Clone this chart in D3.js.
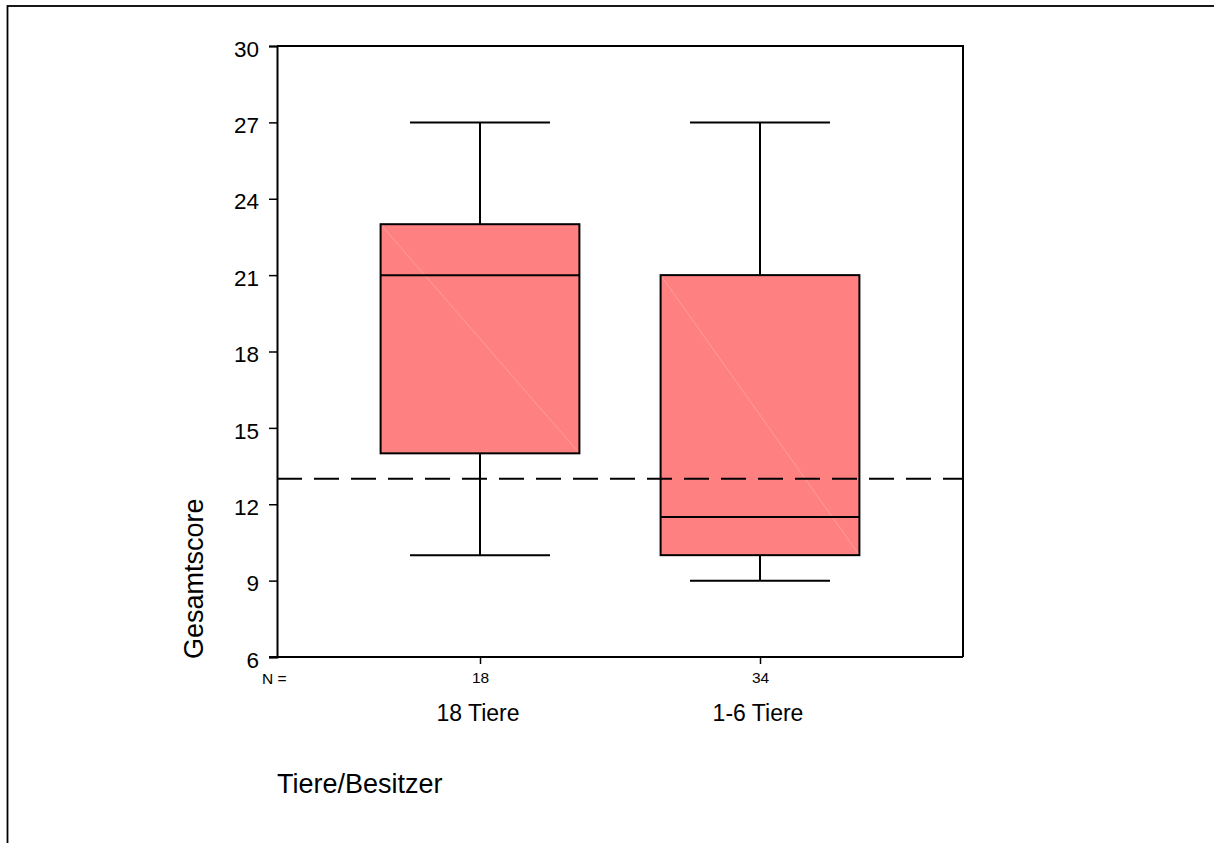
<!DOCTYPE html>
<html>
<head>
<meta charset="utf-8">
<script src="https://cdn.jsdelivr.net/npm/d3@7"></script>
<style>
  html, body { margin: 0; padding: 0; background: #fff; }
  svg { display: block; font-family: Arial, "Liberation Sans", sans-serif; }
</style>
</head>
<body>
<svg id="chart" width="1214" height="843"></svg>
<script>
// Gesamtscore by number of animals per owner
const categories = ["18 Tiere", "1-6 Tiere"];
const counts = [18, 34];
const whiskerLow = [10, 9];
const q1 = [14, 10];
const median = [21, 11.5];
const q3 = [23, 21];
const whiskerHigh = [27, 27];
const yTicks = [6, 9, 12, 15, 18, 21, 24, 27, 30];
const referenceLine = 13;

const svg = d3.select("#chart");
const margin = { left: 277, top: 46, right: 963, bottom: 657 };

// outer frame
svg.append("rect")
  .attr("x", 7.5).attr("y", 6)
  .attr("width", 1400).attr("height", 1000)
  .attr("fill", "none").attr("stroke", "#000").attr("stroke-width", 1.8);

const x = d3.scalePoint().domain(categories)
  .range([margin.left, margin.right]).padding(0.725);
const y = d3.scaleLinear().domain([6, 30]).range([margin.bottom, margin.top]);

const step = x.step();
const boxW = step * 0.71;
const capW = step * 0.5;

const g = svg.append("g");

// boxes
categories.forEach((c, i) => {
  const cx = x(c);
  // whisker stems
  g.append("line").attr("x1", cx).attr("x2", cx)
    .attr("y1", y(q3[i])).attr("y2", y(whiskerHigh[i]))
    .attr("stroke", "#000").attr("stroke-width", 2);
  g.append("line").attr("x1", cx).attr("x2", cx)
    .attr("y1", y(q1[i])).attr("y2", y(whiskerLow[i]))
    .attr("stroke", "#000").attr("stroke-width", 2);
  // caps
  [whiskerHigh[i], whiskerLow[i]].forEach(v => {
    g.append("line").attr("x1", cx - capW / 2).attr("x2", cx + capW / 2)
      .attr("y1", y(v)).attr("y2", y(v))
      .attr("stroke", "#000").attr("stroke-width", 2);
  });
  // box body
  g.append("rect")
    .attr("x", cx - boxW / 2).attr("y", y(q3[i]))
    .attr("width", boxW).attr("height", y(q1[i]) - y(q3[i]))
    .attr("fill", "#ff8080");
  // faint fill seam across the box
  g.append("line")
    .attr("x1", cx - boxW / 2).attr("y1", y(q3[i]))
    .attr("x2", cx + boxW / 2).attr("y2", y(q1[i]))
    .attr("stroke", "#ff9c9c").attr("stroke-width", 1);
  g.append("rect")
    .attr("x", cx - boxW / 2).attr("y", y(q3[i]))
    .attr("width", boxW).attr("height", y(q1[i]) - y(q3[i]))
    .attr("fill", "none").attr("stroke", "#000").attr("stroke-width", 2);
  // median
  g.append("line").attr("x1", cx - boxW / 2).attr("x2", cx + boxW / 2)
    .attr("y1", y(median[i])).attr("y2", y(median[i]))
    .attr("stroke", "#000").attr("stroke-width", 2);
});

// reference line
svg.append("line")
  .attr("x1", margin.left).attr("x2", margin.right)
  .attr("y1", y(referenceLine)).attr("y2", y(referenceLine))
  .attr("stroke", "#000").attr("stroke-width", 2)
  .attr("stroke-dasharray", "25,12");

// plot frame (top and right sides)
svg.append("path")
  .attr("d", `M${margin.left},${margin.top}H${margin.right}V${margin.bottom}`)
  .attr("fill", "none").attr("stroke", "#000").attr("stroke-width", 2);

// y axis
const yAxis = svg.append("g")
  .attr("transform", `translate(${margin.left},0)`)
  .call(d3.axisLeft(y).tickValues(yTicks).tickSize(8).tickPadding(10));
yAxis.select(".domain").attr("stroke-width", 2);
yAxis.selectAll(".tick line").attr("stroke-width", 1.5);
yAxis.selectAll(".tick text")
  .attr("font-size", 22.5).attr("font-family", "Arial, 'Liberation Sans', sans-serif")
  .attr("fill", "#000").attr("dy", "0.45em");

// x axis
const xAxis = svg.append("g")
  .attr("transform", `translate(0,${margin.bottom})`)
  .call(d3.axisBottom(x).tickSize(7).tickFormat((d, i) => counts[i]).tickPadding(8));
xAxis.select(".domain").attr("stroke-width", 2)
  .attr("d", `M${margin.left - 8},0H${margin.right}`);
xAxis.selectAll(".tick line").attr("stroke-width", 1.5);
xAxis.selectAll(".tick text")
  .attr("font-size", 15.5).attr("font-family", "Arial, 'Liberation Sans', sans-serif")
  .attr("fill", "#000");

svg.append("text")
  .attr("x", 262).attr("y", 684)
  .attr("font-size", 15.5).text("N =");

// category labels
svg.selectAll("text.cat").data(categories).join("text")
  .attr("class", "cat")
  .attr("x", d => x(d) - 2).attr("y", 721)
  .attr("text-anchor", "middle")
  .attr("font-size", 23)
  .text(d => d);

// axis titles
svg.append("text")
  .attr("x", 277).attr("y", 793)
  .attr("font-size", 27)
  .text("Tiere/Besitzer");

svg.append("text")
  .attr("transform", "translate(203,659) rotate(-90)")
  .attr("font-size", 27)
  .text("Gesamtscore");
</script>
</body>
</html>
